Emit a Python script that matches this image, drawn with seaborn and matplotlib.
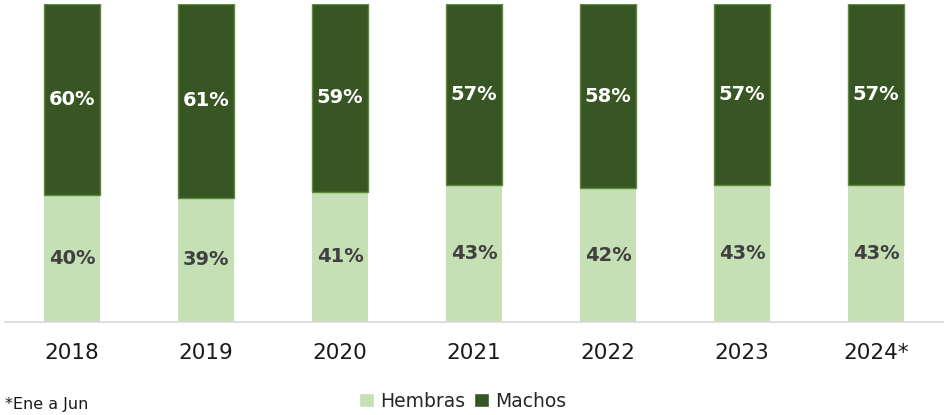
import matplotlib
matplotlib.use("Agg")
import matplotlib.pyplot as plt
import seaborn as sns
import pandas as pd
from matplotlib.patches import Patch

# Data
years = ["2018", "2019", "2020", "2021", "2022", "2023", "2024*"]
hembras = [40, 39, 41, 43, 42, 43, 43]
machos = [60, 61, 59, 57, 58, 57, 57]

df = pd.DataFrame({"year": years, "Hembras": hembras, "Machos": machos})

light = "#c5e0b4"
dark = "#375623"

sns.set_style("white")
plt.rcParams['font.family'] = ['DejaVu Sans']

fig = plt.figure(figsize=(9.46, 4.15), dpi=100)
ax = fig.add_axes([5 / 946, 93 / 415, 938 / 946, 318 / 415])

sns.barplot(data=df, x="year", y="Hembras", color=light, width=0.42,
            saturation=1, ax=ax, linewidth=0)
sns.barplot(data=df, x="year", y="Machos", bottom=df["Hembras"], color=dark,
            width=0.42, saturation=1, ax=ax, edgecolor="#5b8a3a", linewidth=1)

# Value labels
for i, (h, m) in enumerate(zip(hembras, machos)):
    ax.text(i, h / 2, f"{h}%", ha="center", va="center", fontsize=14,
            fontweight="bold", color="#404040")
    ax.text(i, h + m / 2, f"{m}%", ha="center", va="center", fontsize=14,
            fontweight="bold", color="white")

ax.set_xlim(-0.5, 6.5)
ax.set_ylim(0, 100)
ax.set_xlabel("")
ax.set_ylabel("")
ax.set_yticks([])
ax.tick_params(axis="x", length=0, labelsize=15.5, pad=15, labelcolor="#1a1a1a")
for side in ["top", "right", "left"]:
    ax.spines[side].set_visible(False)
ax.spines["bottom"].set_color("#d9d9d9")
ax.spines["bottom"].set_linewidth(1.2)

handles = [Patch(facecolor=light, label="Hembras"),
           Patch(facecolor=dark, label="Machos")]
fig.legend(handles=handles, loc="center", bbox_to_anchor=(0.489, 1 - 401 / 415),
           ncol=2, frameon=False, fontsize=13.5, handlelength=0.8,
           handleheight=0.8, handletextpad=0.3, columnspacing=0.5)

fig.text(5 / 946, 1 - 404 / 415, "*Ene a Jun", ha="left", va="center",
         fontsize=11.5, color="#1a1a1a")

plt.savefig("out.png", dpi=100, facecolor="white")
plt.close()
